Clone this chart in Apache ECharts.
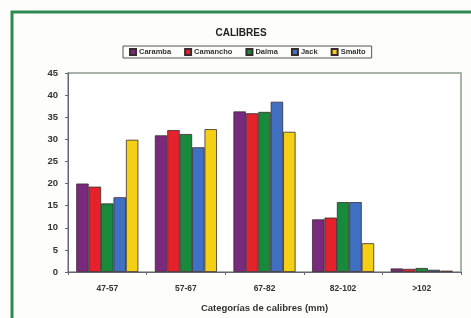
<!DOCTYPE html>
<html><head><meta charset="utf-8">
<script src="https://cdn.jsdelivr.net/npm/echarts@6/dist/echarts.min.js"></script>
<style>html,body{margin:0;padding:0;background:#fff}#c{width:471px;height:318px}</style>
</head><body><div id="c"></div>
<script>
var categories = ['47-57', '57-67', '67-82', '82-102', '>102'];
var seriesNames = ['Caramba', 'Camancho', 'Dalma', 'Jack', 'Smalto'];
var caramba = [20, 30.9, 36.3, 11.9, 0.8];
var camancho = [19.3, 32.1, 35.9, 12.3, 0.7];
var dalma = [15.5, 31.2, 36.2, 15.8, 0.9];
var jack = [16.9, 28.2, 38.5, 15.8, 0.5];
var smalto = [29.9, 32.3, 31.7, 6.5, 0.3];
var yTicks = [0, 5, 10, 15, 20, 25, 30, 35, 40, 45];
var colors = ['#7a2a7c', '#e5222b', '#178a3c', '#4070c2', '#f4d014'];

var values = [caramba, camancho, dalma, jack, smalto];
var chart = echarts.init(document.getElementById('c'));
chart.setOption({
  animation: false,
  backgroundColor: '#fdfdfb',
  title: {
    text: 'CALIBRES', left: 236, top: 23, textAlign: 'center',
    textStyle: {fontSize: 10, fontWeight: 'bold', color: '#222', fontFamily: 'Liberation Sans'}
  },
  legend: {
    data: seriesNames, left: 123, top: 46, itemWidth: 6, itemHeight: 6, itemGap: 13,
    borderColor: '#555', borderWidth: 1, padding: [2, 6],
    textStyle: {fontSize: 7.5, fontWeight: 'bold', color: '#333', fontFamily: 'Liberation Sans', padding: [0, 0, 0, -2]},
    icon: 'rect'
  },
  graphic: [{
    type: 'rect', shape: {x: 12, y: 12, width: 470, height: 320},
    style: {fill: 'none', stroke: '#2f8a52', lineWidth: 3}, silent: true
  }],
  grid: {left: 68, right: 10, top: 73, bottom: 46, show: true, borderColor: '#8d9a8d', borderWidth: 1.5, backgroundColor: '#fff'},
  xAxis: {
    type: 'category', data: categories,
    axisLine: {lineStyle: {color: '#667', width: 1}},
    axisTick: {show: true, length: 3, lineStyle: {color: '#667'}},
    axisLabel: {fontSize: 8.5, fontWeight: 'bold', color: '#333', margin: 12, fontFamily: 'Liberation Sans'},
    name: 'Categorías de calibres (mm)', nameLocation: 'middle', nameGap: 31,
    nameTextStyle: {fontSize: 9.5, fontWeight: 'bold', color: '#333', fontFamily: 'Liberation Sans'}
  },
  yAxis: {
    type: 'value', min: 0, max: 45, interval: 5,
    axisLine: {show: true, lineStyle: {color: '#667'}},
    axisTick: {show: true, length: 3, lineStyle: {color: '#667'}},
    splitLine: {show: false},
    axisLabel: {fontSize: 9.5, fontWeight: 'bold', color: '#333', margin: 10, fontFamily: 'Liberation Sans',
      formatter: function (v) { return yTicks.indexOf(v) >= 0 ? String(v) : ''; }}
  },
  series: seriesNames.map(function (n, i) {
    return {
      name: n, type: 'bar', data: values[i], barGap: '0%', barCategoryGap: '21%',
      itemStyle: {color: colors[i], borderColor: '#3a2a30', borderWidth: 0.8}
    };
  })
});
</script></body></html>
